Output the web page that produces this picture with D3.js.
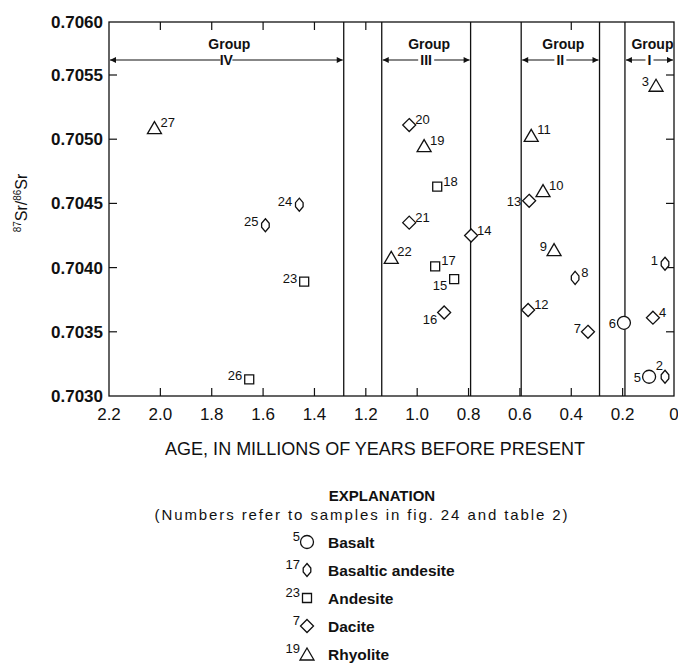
<html>
<head>
<meta charset="utf-8">
<script src="https://d3js.org/d3.v7.min.js"></script>
<style>
  body { margin: 0; background: #fff; }
  text { font-family: 'Liberation Sans Narrow', 'Liberation Sans', sans-serif; fill: #111; }
</style>
</head>
<body>
<script>
    // sample data
    var sampleIds = [1, 2, 3, 4, 5, 6, 7, 8, 9, 10, 11, 12, 13, 14, 15, 16, 17, 18, 19, 20, 21, 22, 23, 24, 25, 26, 27];
    var ages = [0.035, 0.035, 0.07, 0.082, 0.097, 0.195, 0.335, 0.385, 0.467, 0.51, 0.556, 0.568, 0.564, 0.79, 0.856,
                0.895, 0.93, 0.922, 0.973, 1.031, 1.031, 1.101, 1.44, 1.459, 1.591, 1.654, 2.023];
    var srRatios = [0.70403, 0.70315, 0.70542, 0.70361, 0.70315, 0.70357, 0.70350, 0.70392, 0.70414, 0.70460, 0.70503,
                    0.70367, 0.70452, 0.70425, 0.70391, 0.70365, 0.70401, 0.70463, 0.70495, 0.70511, 0.70435, 0.70408,
                    0.70389, 0.70449, 0.70433, 0.70313, 0.70509];
    var rockTypes = ['BA', 'BA', 'R', 'D', 'B', 'B', 'D', 'BA', 'R', 'R', 'R', 'D', 'D', 'D', 'A',
                     'D', 'A', 'A', 'R', 'D', 'D', 'R', 'A', 'BA', 'BA', 'A', 'R'];

    var groupNames = ['IV', 'III', 'II', 'I'];
    var groupFrom = [2.2, 1.138, 0.595, 0.191];
    var groupTo = [1.286, 0.792, 0.290, 0];
    var boundaryAges = [1.286, 1.138, 0.792, 0.595, 0.290, 0.191];

    var xTicks = [2.2, 2.0, 1.8, 1.6, 1.4, 1.2, 1.0, 0.8, 0.6, 0.4, 0.2, 0];
    var xTickLabels = ['2.2', '2.0', '1.8', '1.6', '1.4', '1.2', '1.0', '0.8', '0.6', '0.4', '0.2', '0'];
    var topTicks = [2.0, 1.8, 1.6, 1.4, 1.2, 0.4];
    var yTicks = [0.7030, 0.7035, 0.7040, 0.7045, 0.7050, 0.7055, 0.7060];

    var legendCodes = ['B', 'BA', 'A', 'D', 'R'];
    var legendNums = ['5', '17', '23', '7', '19'];
    var legendNames = ['Basalt', 'Basaltic andesite', 'Andesite', 'Dacite', 'Rhyolite'];

    var width = 678, height = 663;
    var svg = d3.select('body').append('svg').attr('width', width).attr('height', height);

    var x = d3.scaleLinear().domain([2.2, 0]).range([109, 674]);
    // the scanned figure squeezes the top interval a little
    var y = d3.scaleLinear().domain([0.7030, 0.7055, 0.7060]).range([396, 75, 22]);

    var xLeft = x(2.2), xRight = x(0), yTop = y(0.7060), yBottom = y(0.7030);

    // frame
    svg.append('rect').attr('x', xLeft).attr('y', yTop).attr('width', xRight - xLeft).attr('height', yBottom - yTop)
        .attr('fill', 'none').attr('stroke', '#111').attr('stroke-width', 1.3);

    // group boundaries
    svg.selectAll('.bound').data(boundaryAges).enter().append('line')
        .attr('x1', function(d){return x(d)}).attr('x2', function(d){return x(d)})
        .attr('y1', yTop).attr('y2', yBottom).attr('stroke', '#111').attr('stroke-width', 1.3);

    // ticks
    svg.selectAll('.btick').data(xTicks.slice(1, -1)).enter().append('line')
        .attr('x1', function(d){return x(d)}).attr('x2', function(d){return x(d)})
        .attr('y1', yBottom).attr('y2', yBottom - 8).attr('stroke', '#111').attr('stroke-width', 1.2);
    svg.selectAll('.ttick').data(topTicks).enter().append('line')
        .attr('x1', function(d){return x(d)}).attr('x2', function(d){return x(d)})
        .attr('y1', yTop).attr('y2', yTop + 8).attr('stroke', '#111').attr('stroke-width', 1.2);
    svg.selectAll('.ltick').data(yTicks.slice(1, -1)).enter().append('line')
        .attr('x1', xLeft).attr('x2', xLeft + 8)
        .attr('y1', function(d){return y(d)}).attr('y2', function(d){return y(d)}).attr('stroke', '#111').attr('stroke-width', 1.2);
    svg.selectAll('.rtick').data(yTicks.slice(1, -1)).enter().append('line')
        .attr('x1', xRight).attr('x2', xRight - 8)
        .attr('y1', function(d){return y(d)}).attr('y2', function(d){return y(d)}).attr('stroke', '#111').attr('stroke-width', 1.2);

    // tick labels
    svg.selectAll('.xlab').data(xTicks).enter().append('text')
        .attr('x', function(d){return x(d)}).attr('y', 420).attr('text-anchor', 'middle')
        .attr('font-size', 17).text(function(d, i){return xTickLabels[i]});
    svg.selectAll('.ylab').data(yTicks).enter().append('text')
        .attr('x', 103).attr('y', function(d){return y(d) + 6}).attr('text-anchor', 'end')
        .attr('font-size', 17).attr('font-weight', 'bold').text(function(d){return d.toFixed(4)});

    // axis titles
    svg.append('text').attr('x', 375).attr('y', 455).attr('text-anchor', 'middle').attr('font-size', 18)
        .text('AGE, IN MILLIONS OF YEARS BEFORE PRESENT');
    var yt = svg.append('text').attr('transform', 'translate(27,203) rotate(-90)').attr('text-anchor', 'middle').attr('font-size', 16);
    yt.append('tspan').attr('font-size', 10).attr('dy', -6).text('87');
    yt.append('tspan').attr('dy', 6).text('Sr/');
    yt.append('tspan').attr('font-size', 10).attr('dy', -6).text('86');
    yt.append('tspan').attr('dy', 6).text('Sr');

    // group headers with double arrows
    var defs = svg.append('defs');
    defs.append('marker').attr('id', 'arr').attr('viewBox', '0 0 10 10').attr('refX', 10).attr('refY', 5)
        .attr('markerWidth', 8).attr('markerHeight', 6).attr('orient', 'auto-start-reverse').attr('markerUnits', 'userSpaceOnUse')
        .append('path').attr('d', 'M0,0 L10,5 L0,10 Z').attr('fill', '#111');
    var arrowY = 60;
    groupNames.forEach(function(g, i){
        var x0 = x(groupFrom[i]), x1 = x(groupTo[i]), cx = (x0 + x1) / 2;
        svg.append('line').attr('x1', x0 + 1).attr('x2', x1 - 1).attr('y1', arrowY).attr('y2', arrowY)
            .attr('stroke', '#111').attr('stroke-width', 1.2)
            .attr('marker-start', 'url(#arr)').attr('marker-end', 'url(#arr)');
        var w = g.length * 4 + 4;
        svg.append('rect').attr('x', cx - w / 2).attr('y', arrowY - 6).attr('width', w).attr('height', 12).attr('fill', '#fff');
        svg.append('text').attr('x', cx).attr('y', arrowY + 5).attr('text-anchor', 'middle').attr('font-size', 14)
            .attr('font-weight', 'bold').text(g);
        svg.append('text').attr('x', cx + 3).attr('y', 49).attr('text-anchor', 'middle').attr('font-size', 14)
            .attr('font-weight', 'bold').text('Group');
    });

    // symbols
    function symbolPath(code){
        if (code === 'B') return 'M-6.5,0 A6.5,6.5 0 1,0 6.5,0 A6.5,6.5 0 1,0 -6.5,0 Z';
        if (code === 'BA') return 'M0,-6.5 L3.8,-2 L3.8,2 L0,6.5 L-3.8,2 L-3.8,-2 Z';
        if (code === 'A') return 'M-4.5,-4.5 L4.5,-4.5 L4.5,4.5 L-4.5,4.5 Z';
        if (code === 'D') return 'M0,-6.5 L6.5,0 L0,6.5 L-6.5,0 Z';
        return 'M0,-6 L7,6 L-7,6 Z';
    }

    var labelPlace = {1:'ul', 2:'u', 3:'ul', 4:'ur', 5:'l', 6:'l', 7:'ul', 8:'ur', 9:'ul', 10:'ur', 11:'ur', 12:'ur',
                      13:'l', 14:'ur', 15:'ll', 16:'ll', 17:'ur', 18:'ur', 19:'ur', 20:'ur', 21:'ur', 22:'ur',
                      23:'ul', 24:'ul', 25:'ul', 26:'ul', 27:'ur'};
    var offsets = {ur: [6, -1, 'start'], ul: [-7, 1, 'end'], l: [-8, 5, 'end'], ll: [-7, 11, 'end'], u: [-2, -7, 'end']};

    var pts = svg.selectAll('.pt').data(sampleIds).enter().append('g')
        .attr('transform', function(d, i){return 'translate(' + x(ages[i]) + ',' + y(srRatios[i]) + ')'});
    pts.append('path').attr('d', function(d, i){return symbolPath(rockTypes[i])})
        .attr('fill', '#fff').attr('stroke', '#111').attr('stroke-width', 1.3);
    pts.append('text').attr('font-size', 13)
        .attr('x', function(d){return offsets[labelPlace[d]][0]})
        .attr('y', function(d){return offsets[labelPlace[d]][1]})
        .attr('text-anchor', function(d){return offsets[labelPlace[d]][2]})
        .text(function(d){return d});

    // explanation
    svg.append('text').attr('x', 382).attr('y', 501).attr('text-anchor', 'middle').attr('font-size', 15)
        .attr('font-weight', 'bold').text('EXPLANATION');
    svg.append('text').attr('x', 362).attr('y', 520).attr('text-anchor', 'middle').attr('font-size', 15)
        .attr('letter-spacing', 1.9).text('(Numbers refer to samples in fig. 24 and table 2)');
    var leg = svg.selectAll('.leg').data(legendCodes).enter().append('g')
        .attr('transform', function(d, i){return 'translate(307,' + (542 + i * 28) + ')'});
    leg.append('path').attr('d', function(d){return symbolPath(d)})
        .attr('fill', '#fff').attr('stroke', '#111').attr('stroke-width', 1.3);
    leg.append('text').attr('x', -7).attr('y', -1).attr('text-anchor', 'end').attr('font-size', 13)
        .text(function(d, i){return legendNums[i]});
    leg.append('text').attr('x', 21).attr('y', 6).attr('font-size', 15.5).attr('font-weight', 'bold')
        .text(function(d, i){return legendNames[i]});
</script>
</body>
</html>
